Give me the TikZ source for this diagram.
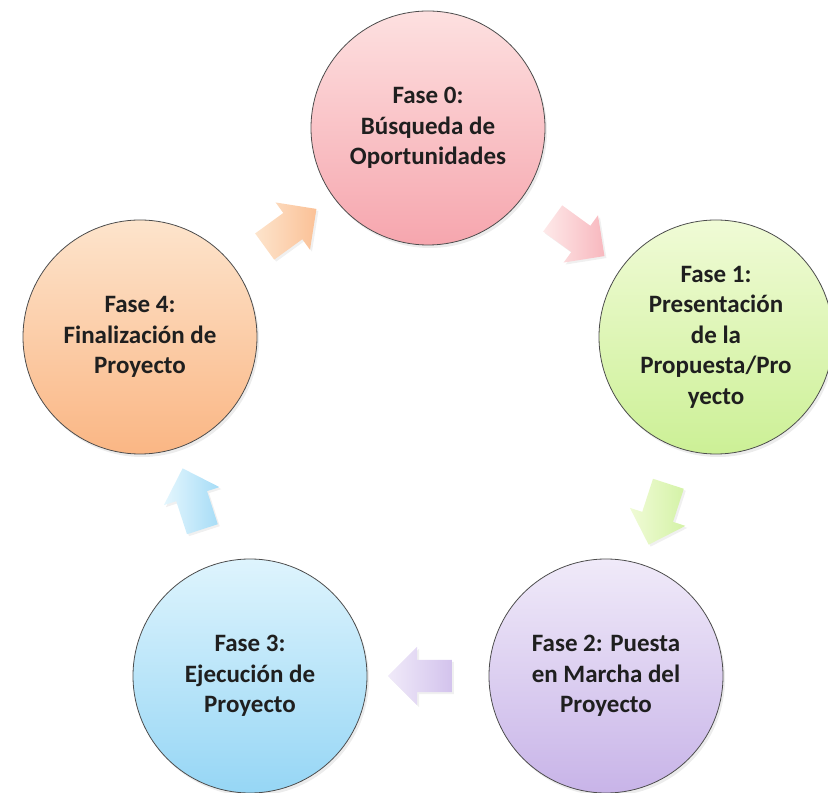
\documentclass[tikz,border=0pt]{standalone}
\usepackage{fontspec}
\setmainfont{Carlito}
\usepackage{tikz}
\usetikzlibrary{shapes.arrows,shadows,calc,positioning}

\definecolor{rosaA}{RGB}{253,224,224}
\definecolor{rosaB}{RGB}{246,166,174}
\definecolor{verdeA}{RGB}{240,251,214}
\definecolor{verdeB}{RGB}{204,240,150}
\definecolor{lilaA}{RGB}{240,234,249}
\definecolor{lilaB}{RGB}{200,180,232}
\definecolor{azulA}{RGB}{222,244,253}
\definecolor{azulB}{RGB}{150,214,245}
\definecolor{durazA}{RGB}{253,228,204}
\definecolor{durazB}{RGB}{250,182,132}

\tikzset{
  fase/.style={circle, draw=black!70, line width=0.8pt, minimum size=234pt,
    inner sep=0pt, align=center, text=black!88,
    font=\fontsize{25}{30.5}\selectfont\bfseries,
    drop shadow={opacity=0.15, shadow xshift=2pt, shadow yshift=-3pt}},
  flecha/.style={single arrow, draw=none, minimum height=64pt,
    minimum width=58pt, single arrow head extend=13pt, inner xsep=0pt,
    inner ysep=16pt,
    drop shadow={opacity=0.12, shadow xshift=2pt, shadow yshift=-2pt}}
}

\begin{document}
\begin{tikzpicture}[x=1pt,y=1pt]
\useasboundingbox (0,0) rectangle (828,793);

% fases
\node[fase, top color=rosaA, bottom color=rosaB] (fase0) at (428,665)
  {Fase 0:\\Búsqueda de\\Oportunidades};
\node[fase, top color=verdeA, bottom color=verdeB] (fase1) at (716,456)
  {Fase 1:\\Presentación\\de la\\Propuesta/Pro\\yecto};
\node[fase, top color=lilaA, bottom color=lilaB] (fase2) at (606,117)
  {Fase 2: Puesta\\en Marcha del\\Proyecto};
\node[fase, top color=azulA, bottom color=azulB] (fase3) at (250,117)
  {Fase 3:\\Ejecución de\\Proyecto};
\node[fase, top color=durazA, bottom color=durazB] (fase4) at (140,456)
  {Fase 4:\\Finalización de\\Proyecto};

% flechas
\node[flecha, rotate=-36, left color=rosaA!70, right color=rosaB!80] (flecha01)
  at ($(fase0)!0.5!(fase1)$) {};
\node[flecha, rotate=-108, left color=verdeA, right color=verdeB!85] (flecha12)
  at ($(fase1)!0.5!(fase2)$) {};
\node[flecha, rotate=180, left color=lilaA, right color=lilaB!80] (flecha23)
  at ($(fase2)!0.5!(fase3)$) {};
\node[flecha, rotate=108, left color=azulA!80, right color=azulB!85] (flecha34)
  at ($(fase3)!0.5!(fase4)$) {};
\node[flecha, rotate=36, left color=durazA, right color=durazB!85] (flecha40)
  at ($(fase4)!0.5!(fase0)$) {};
\end{tikzpicture}
\end{document}
